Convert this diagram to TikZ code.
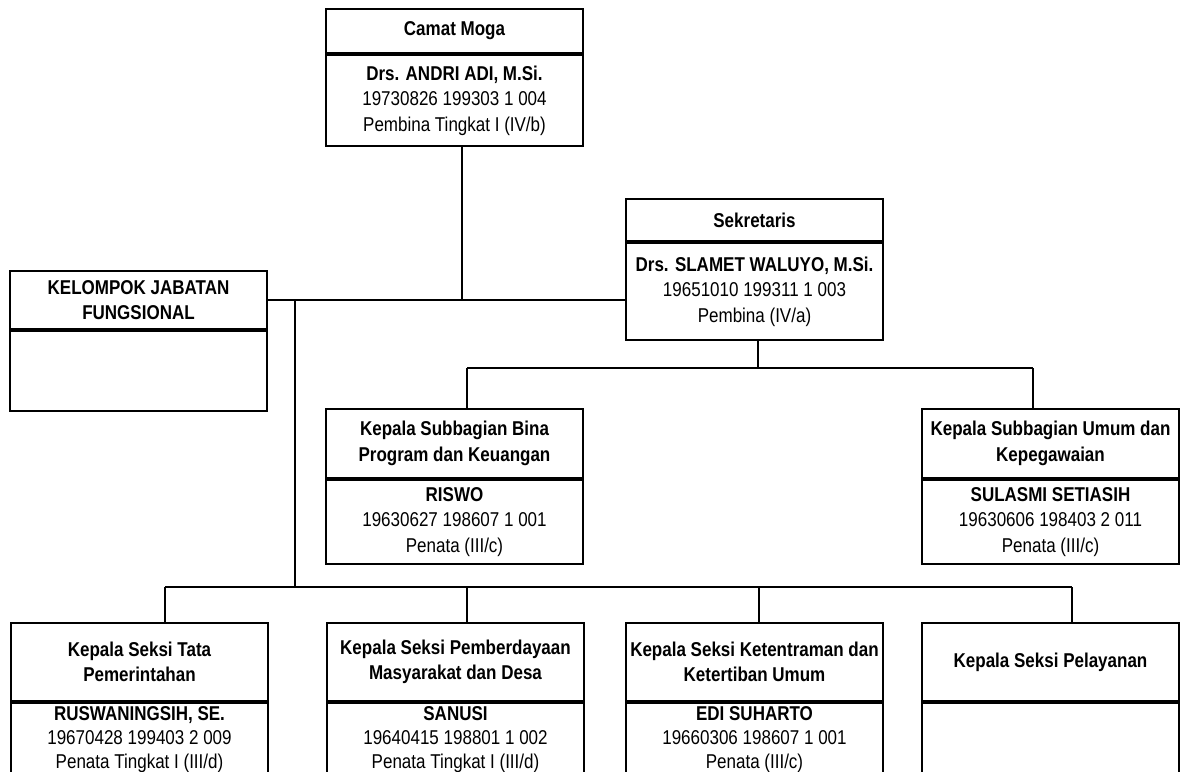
\documentclass[tikz,border=0pt]{standalone}
\usepackage{fontspec}
\setmainfont{Liberation Sans}[FakeStretch=0.85]
\usetikzlibrary{positioning}
\newcommand{\px}{0.75pt}
\tikzset{
  judul/.style={draw, line width=1.5pt, minimum width=257*\px, align=center,
    inner xsep=1pt, inner ysep=2pt, anchor=north west, font=\fontsize{15}{19}\selectfont\bfseries},
  isi/.style={draw, line width=1.5pt, minimum width=257*\px, align=center,
    inner sep=2pt, below=0pt of #1, font=\fontsize{15}{19}\selectfont},
  isibawah/.style={isi=#1, minimum height=74*\px, font=\fontsize{15}{18}\selectfont},
  garis/.style={line width=1pt}
}

\begin{document}
\begin{tikzpicture}[x=0.75pt,y=-0.75pt]
  \useasboundingbox (0,0) rectangle (1181,771);

  % kotak jabatan
  \node[judul, minimum height=44*\px] (camat) at (325,8) {Camat Moga};
  \node[isi=camat, minimum height=91*\px] (camat-b)
    {\bfseries Drs. ANDRI ADI, M.Si.\\19730826 199303 1 004\\Pembina Tingkat I (IV/b)};

  \node[judul, minimum height=42*\px] (sek) at (625,198) {Sekretaris};
  \node[isi=sek, minimum height=97*\px] (sek-b)
    {\bfseries Drs. SLAMET WALUYO, M.Si.\\19651010 199311 1 003\\Pembina (IV/a)};

  \node[judul, minimum height=58*\px] (kel) at (9,270) {KELOMPOK JABATAN\\FUNGSIONAL};
  \node[isi=kel, minimum height=80*\px] (kel-b) {};

  \node[judul, minimum height=69*\px] (bina) at (325,408) {Kepala Subbagian Bina\\Program dan Keuangan};
  \node[isi=bina, minimum height=84*\px] (bina-b)
    {\bfseries RISWO\\19630627 198607 1 001\\Penata (III/c)};

  \node[judul, minimum height=69*\px] (umum) at (921,408) {Kepala Subbagian Umum dan\\Kepegawaian};
  \node[isi=umum, minimum height=84*\px] (umum-b)
    {\bfseries SULASMI SETIASIH\\19630606 198403 2 011\\Penata (III/c)};

  \node[judul, minimum height=78*\px] (tapem) at (10,622) {Kepala Seksi Tata\\Pemerintahan};
  \node[isibawah=tapem] (tapem-b)
    {\bfseries RUSWANINGSIH, SE.\\19670428 199403 2 009\\Penata Tingkat I (III/d)};

  \node[judul, minimum height=78*\px] (pmd) at (326,622) {Kepala Seksi Pemberdayaan\\Masyarakat dan Desa};
  \node[isibawah=pmd] (pmd-b)
    {\bfseries SANUSI\\19640415 198801 1 002\\Penata Tingkat I (III/d)};

  \node[judul, minimum height=78*\px] (trantib) at (625,622) {Kepala Seksi Ketentraman dan\\Ketertiban Umum};
  \node[isibawah=trantib] (trantib-b)
    {\bfseries EDI SUHARTO\\19660306 198607 1 001\\Penata (III/c)};

  \node[judul, minimum height=78*\px] (layan) at (921,622) {Kepala Seksi Pelayanan};
  \node[isibawah=layan] (layan-b) {};

  % titik simpul garis
  \coordinate (j-camat) at (462,299);
  \coordinate (j-kel) at (295,299);
  \coordinate (j-seksi) at (295,587);
  \coordinate (j-sek) at (758,368);

  % garis komando
  \draw[garis] (kel.east) -- (kel.east -| sek-b.west);
  \draw[garis] (camat-b.south -| j-camat) -- (j-camat);
  \draw[garis] (j-kel) -- (j-seksi);
  \draw[garis] (sek-b.south -| j-sek) -- (j-sek);
  \draw[garis] (467,368) coordinate (s1) -- (1033,368) coordinate (s2);
  \draw[garis] (s1) -- (s1 |- bina.north);
  \draw[garis] (s2) -- (s2 |- umum.north);
  \draw[garis] (165,587) coordinate (b1) -- (1072,587) coordinate (b4);
  \coordinate (b2) at (467,587);
  \coordinate (b3) at (759,587);
  \draw[garis] (b1) -- (b1 |- tapem.north);
  \draw[garis] (b2) -- (b2 |- pmd.north);
  \draw[garis] (b3) -- (b3 |- trantib.north);
  \draw[garis] (b4) -- (b4 |- layan.north);
\end{tikzpicture}
\end{document}
